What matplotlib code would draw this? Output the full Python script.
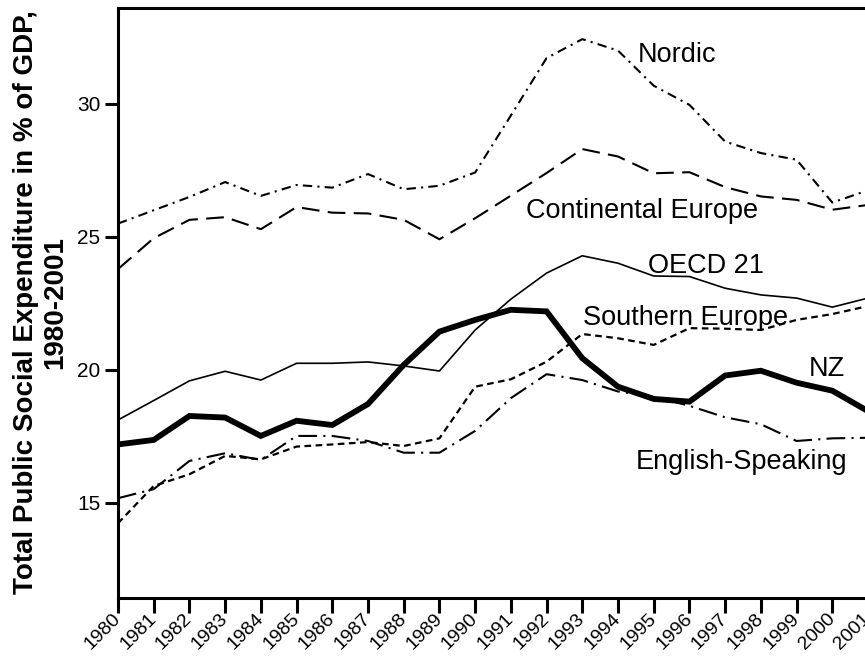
import matplotlib.pyplot as plt

# years on the x axis
years = list(range(1980, 2002))

# series (% of GDP)
nordic = [25.5, 26.0, 26.5, 27.06, 26.54, 26.95, 26.85, 27.36, 26.79, 26.92, 27.42,
          29.56, 31.72, 32.43, 32.0, 30.68, 29.96, 28.58, 28.15, 27.9, 26.29, 26.75]
continental = [23.79, 24.95, 25.64, 25.74, 25.29, 26.12, 25.91, 25.88, 25.64, 24.91, 25.7,
               26.55, 27.4, 28.3, 28.02, 27.39, 27.43, 26.87, 26.52, 26.39, 26.02, 26.2]
oecd21 = [18.12, 18.85, 19.59, 19.95, 19.62, 20.25, 20.25, 20.3, 20.15, 19.96, 21.5,
          22.66, 23.64, 24.29, 24.01, 23.53, 23.51, 23.07, 22.82, 22.7, 22.36, 22.7]
southern = [14.24, 15.64, 16.08, 16.77, 16.64, 17.12, 17.2, 17.29, 17.14, 17.43, 19.37,
            19.65, 20.31, 21.35, 21.19, 20.94, 21.57, 21.55, 21.5, 21.88, 22.1, 22.4]
english = [15.18, 15.52, 16.58, 16.87, 16.62, 17.52, 17.52, 17.33, 16.89, 16.89, 17.71,
           18.94, 19.84, 19.62, 19.19, 19.0, 18.65, 18.22, 17.96, 17.33, 17.43, 17.45]
nz = [17.2, 17.37, 18.27, 18.21, 17.52, 18.09, 17.93, 18.72, 20.19, 21.44, 21.88,
      22.26, 22.2, 20.44, 19.37, 18.91, 18.81, 19.79, 19.97, 19.52, 19.22, 18.45]

# label text and where it sits (x centre, baseline)
labels = ["Nordic", "Continental Europe", "OECD 21", "Southern Europe", "NZ", "English-Speaking"]
label_x = [1995.64, 1994.66, 1996.46, 1995.88, 1999.84, 1997.47]
label_y = [31.58, 25.71, 23.64, 21.69, 19.77, 16.27]

plt.rcParams['font.family'] = ['Liberation Sans', 'DejaVu Sans']

fig = plt.figure(figsize=(8.65, 6.57), dpi=100)
ax = fig.add_axes([0.1364, 0.0898, 0.8671, 0.898])

#the different group lines
ax.plot(years, nordic, color='black', lw=1.5, linestyle=(0, (4.5, 2.5, 1, 2.5)))
ax.plot(years, continental, color='black', lw=1.5, linestyle=(0, (8.5, 4)))
ax.plot(years, oecd21, color='black', lw=1.2, linestyle='-')
ax.plot(years, southern, color='black', lw=1.6, linestyle=(0, (3, 2)))
ax.plot(years, english, color='black', lw=1.5, linestyle=(0, (9, 3, 1, 3)))
ax.plot(years, nz, color='black', lw=4.2, linestyle='-', solid_joinstyle='miter')

for txt, x, y in zip(labels, label_x, label_y):
    ax.text(x, y, txt, ha='center', va='baseline', fontsize=19.5)

ax.set_xlim(1980, 2001)
ax.set_ylim(11.43, 33.6)
ax.set_xticks(years)
ax.set_xticklabels([str(y) for y in years], rotation=45, ha='right',
                   va='center', rotation_mode='anchor')
ax.set_yticks([15, 20, 25, 30])

ax.tick_params(axis='y', length=9.5, width=2.2, labelsize=15, pad=3)
ax.tick_params(axis='x', length=11, width=2.2, labelsize=14, pad=2)

for s in ['left', 'bottom', 'top']:
    ax.spines[s].set_linewidth(2.2)
ax.spines['right'].set_visible(False)

fig.text(0.047, 0.540, "Total Public Social Expenditure in % of GDP,\n1980-2001",
         rotation=90, ha='center', va='center', multialignment='center',
         fontsize=20, fontweight='bold', linespacing=1.15)

fig.savefig("out.png", dpi=100)
